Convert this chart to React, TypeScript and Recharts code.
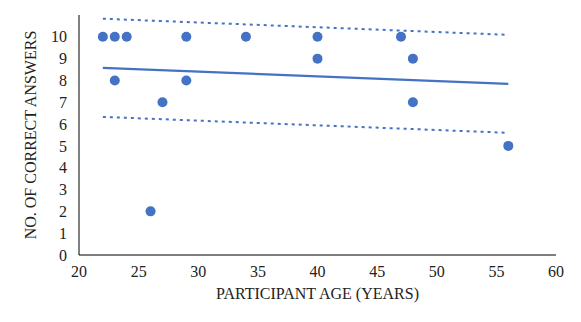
import React from "react";
import { ComposedChart, Scatter, Line, XAxis, YAxis, Label } from "recharts";

const ages = [22, 23, 24, 29, 34, 40, 47, 23, 29, 27, 40, 48, 48, 56, 26];
const scores = [10, 10, 10, 10, 10, 10, 10, 8, 8, 7, 9, 9, 7, 5, 2];
const lineAges = [22, 56];
const trendValues = [8.58, 7.84];
const upperValues = [10.83, 10.09];
const lowerValues = [6.33, 5.6];
const xTicks = [20, 25, 30, 35, 40, 45, 50, 55, 60];
const yTicks = [0, 1, 2, 3, 4, 5, 6, 7, 8, 9, 10];

const points = ages.map((x, i) => ({ x, y: scores[i] }));
const trend = lineAges.map((x, i) => ({ x, y: trendValues[i] }));
const upper = lineAges.map((x, i) => ({ x, y: upperValues[i] }));
const lower = lineAges.map((x, i) => ({ x, y: lowerValues[i] }));

const BLUE = "#4472C4";
const FONT = "'Liberation Serif', 'Times New Roman', serif";

export default function App() {
  return (
    <div style={{ position: "absolute", left: 0, top: 0, background: "#fff" }}>
      <ComposedChart
        width={581}
        height={322}
        margin={{ top: 15, right: 25, bottom: 0, left: 0 }}
      >
        <XAxis
          type="number"
          dataKey="x"
          domain={[20, 60]}
          ticks={xTicks}
          interval={0}
          height={67}
          tickLine={false}
          tickSize={0}
          tickMargin={11}
          axisLine={{ stroke: "#000", strokeWidth: 1 }}
          tick={{ fill: "#222", fontSize: 16, fontFamily: FONT }}
          allowDuplicatedCategory={false}
        >
          <Label
            content={(props: any) => {
              const vb = props.viewBox;
              return (
                <text
                  x={vb.x + vb.width / 2}
                  y={vb.y + 44}
                  textAnchor="middle"
                  fill="#222"
                  fontSize={16}
                  fontFamily={FONT}
                >
                  PARTICIPANT AGE (YEARS)
                </text>
              );
            }}
          />
        </XAxis>
        <YAxis
          type="number"
          dataKey="y"
          domain={[0, 11]}
          ticks={yTicks}
          interval={0}
          width={79}
          tickLine={false}
          tickSize={0}
          tickMargin={12}
          axisLine={{ stroke: "#000", strokeWidth: 1 }}
          tick={{ fill: "#222", fontSize: 16, fontFamily: FONT }}
        >
          <Label
            content={(props: any) => {
              const vb = props.viewBox;
              const cx = vb.x + 36;
              const cy = vb.y + vb.height / 2;
              return (
                <text
                  x={cx}
                  y={cy}
                  transform={`rotate(-90 ${cx} ${cy})`}
                  textAnchor="middle"
                  fill="#222"
                  fontSize={16}
                  fontFamily={FONT}
                >
                  NO. OF CORRECT ANSWERS
                </text>
              );
            }}
          />
        </YAxis>
        <Line
          data={upper}
          dataKey="y"
          stroke={BLUE}
          strokeWidth={2}
          strokeDasharray="3 4"
          dot={false}
          activeDot={false}
          isAnimationActive={false}
          type="linear"
        />
        <Line
          data={lower}
          dataKey="y"
          stroke={BLUE}
          strokeWidth={2}
          strokeDasharray="3 4"
          dot={false}
          activeDot={false}
          isAnimationActive={false}
          type="linear"
        />
        <Line
          data={trend}
          dataKey="y"
          stroke={BLUE}
          strokeWidth={2.25}
          dot={false}
          activeDot={false}
          isAnimationActive={false}
          type="linear"
        />
        <Scatter
          data={points}
          fill={BLUE}
          isAnimationActive={false}
          shape={(p: any) => <circle cx={p.cx} cy={p.cy} r={5} fill={BLUE} />}
        />
      </ComposedChart>
    </div>
  );
}
